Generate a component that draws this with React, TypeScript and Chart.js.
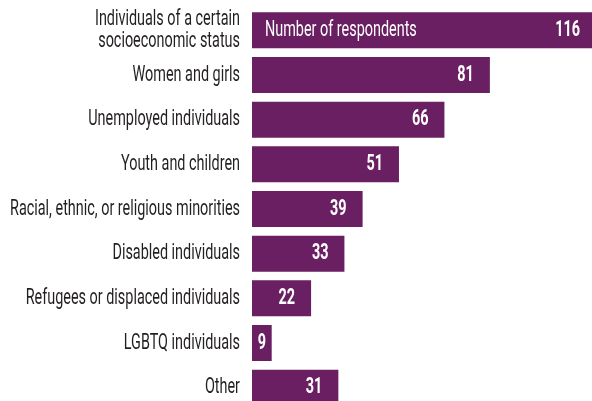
import React, { useEffect, useRef } from "react";
import { Chart, registerables } from "chart.js";

Chart.register(...registerables);

const categories: (string | string[])[] = [
  ["Individuals of a certain", "socioeconomic status"],
  "Women and girls",
  "Unemployed individuals",
  "Youth and children",
  "Racial, ethnic, or religious minorities",
  "Disabled individuals",
  "Refugees or displaced individuals",
  "LGBTQ individuals",
  "Other",
];
const respondents: number[] = [116, 81, 66, 51, 39, 33, 22, 9, 31];
const seriesLabel = "Number of respondents";

const BAR = "#691F62";
const TEXT = "#231F20";
const FAMILY = "Roboto, 'Liberation Sans', sans-serif";
const SIZE = 22;
const LINE = 22;

function condensedScale(ctx: CanvasRenderingContext2D) {
  ctx.font = `${SIZE}px ${FAMILY}`;
  const w = ctx.measureText("Racial, ethnic, or religious minorities").width;
  return 230 / w;
}

function drawText(
  ctx: CanvasRenderingContext2D,
  text: string,
  x: number,
  y: number,
  align: "left" | "right" | "center",
  sx: number
) {
  ctx.save();
  ctx.translate(x, y);
  ctx.scale(sx, 1);
  ctx.textAlign = align;
  ctx.fillText(text, 0, 0);
  ctx.restore();
}

const textPlugin = {
  id: "condensedText",
  afterDatasetsDraw(chart: any) {
    const ctx: CanvasRenderingContext2D = chart.ctx;
    const meta = chart.getDatasetMeta(0);
    const area = chart.chartArea;
    const sx = condensedScale(ctx);
    ctx.save();
    ctx.textBaseline = "middle";

    // category labels
    ctx.fillStyle = TEXT;
    ctx.font = `${SIZE}px ${FAMILY}`;
    meta.data.forEach((bar: any, i: number) => {
      const lab = categories[i];
      const lines = Array.isArray(lab) ? lab : [lab];
      const y0 = bar.y - ((lines.length - 1) * LINE) / 2;
      lines.forEach((ln, k) => drawText(ctx, ln, area.left - 12, y0 + k * LINE, "right", sx));
    });

    // values inside bars
    ctx.beginPath();
    ctx.rect(area.left, area.top, area.right - area.left, area.bottom - area.top);
    ctx.clip();
    ctx.fillStyle = "#ffffff";
    meta.data.forEach((bar: any, i: number) => {
      const text = String(respondents[i]);
      ctx.font = `bold ${SIZE}px ${FAMILY}`;
      const w = ctx.measureText(text).width * sx;
      const start = area.left;
      const right = bar.x - 16;
      if (right - w < start + 4) {
        drawText(ctx, text, (start + Math.min(bar.x, area.right)) / 2, bar.y, "center", sx);
      } else {
        drawText(ctx, text, right, bar.y, "right", sx);
      }
      if (i === 0) {
        ctx.font = `${SIZE}px ${FAMILY}`;
        drawText(ctx, seriesLabel, start + 13, bar.y, "left", sx);
      }
    });
    ctx.restore();
  },
};

export default function App() {
  const ref = useRef<HTMLCanvasElement>(null);
  useEffect(() => {
    document.body.style.margin = "0";
    document.body.style.overflow = "hidden";
    const chart = new Chart(ref.current!, {
      type: "bar",
      data: {
        labels: categories,
        datasets: [
          {
            label: seriesLabel,
            data: respondents,
            backgroundColor: BAR,
            borderWidth: 0,
            barPercentage: 1,
            categoryPercentage: 0.805,
          },
        ],
      },
      options: {
        indexAxis: "y",
        responsive: false,
        animation: false,
        layout: { padding: { top: 8, right: 0, bottom: 0, left: 0 } },
        plugins: { legend: { display: false }, tooltip: { enabled: false } },
        scales: {
          x: { display: false, min: 2.5, max: 114.7 },
          y: {
            grid: { display: false },
            border: { display: false },
            ticks: { display: false },
            afterFit(scale: any) {
              scale.width = 252;
              scale.paddingTop = 0;
              scale.paddingBottom = 0;
            },
          },
        },
      },
      plugins: [textPlugin],
    });
    return () => chart.destroy();
  }, []);
  return (
    <div style={{ width: 592, height: 401, overflow: "hidden" }}>
      <canvas ref={ref} width={592} height={410} style={{ display: "block" }} />
    </div>
  );
}
